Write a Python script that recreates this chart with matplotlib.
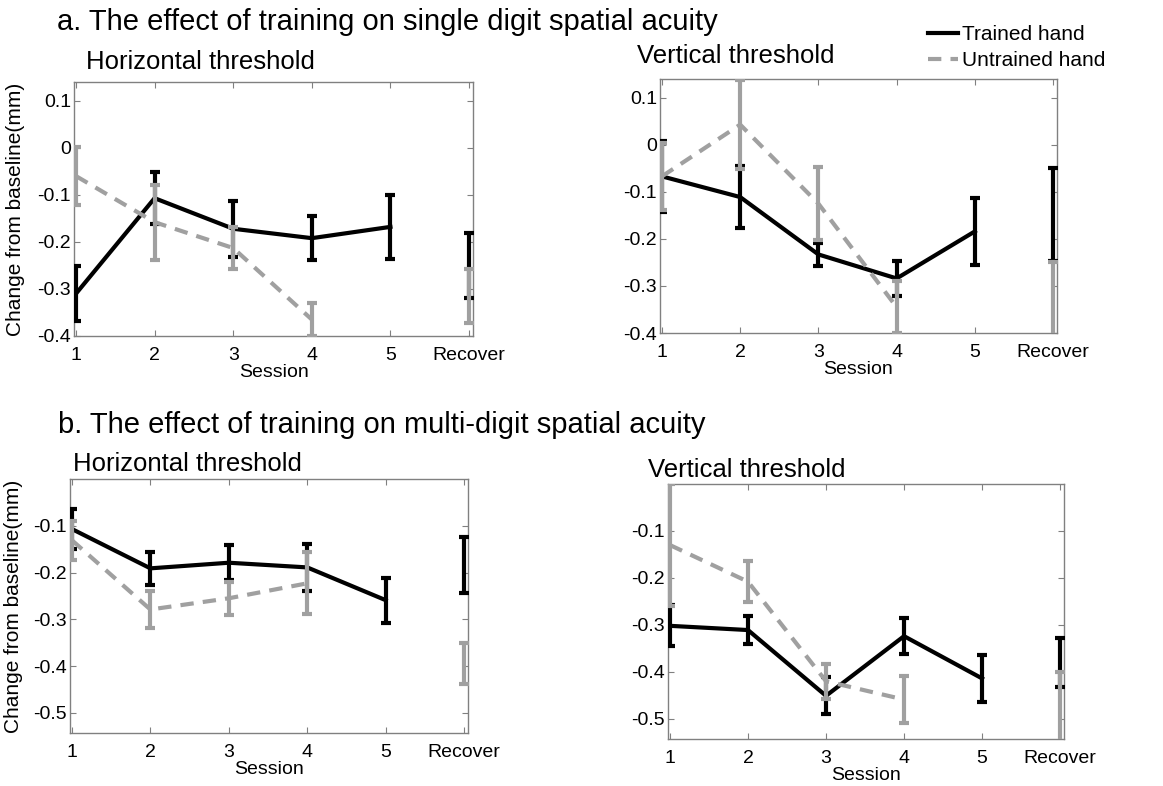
import matplotlib
matplotlib.use("Agg")
import matplotlib.pyplot as plt
from matplotlib.lines import Line2D

plt.rcParams['font.family'] = ['Liberation Sans', 'DejaVu Sans']
plt.rcParams['axes.unicode_minus'] = False

# ---------------- data ----------------
sessions_trained = [1, 2, 3, 4, 5]
sessions_untrained = [1, 2, 3, 4]
recover_x = 6
xtick_labels = ['1', '2', '3', '4', '5', 'Recover']

# a. single digit, horizontal
a_h_trained_mean = [-0.31, -0.107, -0.172, -0.192, -0.168]
a_h_trained_err = [0.058, 0.055, 0.06, 0.047, 0.068]
a_h_untrained_mean = [-0.06, -0.158, -0.213, -0.365]
a_h_untrained_err = [0.062, 0.08, 0.045, 0.035]
a_h_recover_trained = (-0.25, 0.07)
a_h_recover_untrained = (-0.315, 0.058)

# a. single digit, vertical
a_v_trained_mean = [-0.067, -0.111, -0.233, -0.284, -0.184]
a_v_trained_err = [0.075, 0.066, 0.025, 0.037, 0.072]
a_v_untrained_mean = [-0.067, 0.043, -0.125, -0.345]
a_v_untrained_err = [0.071, 0.095, 0.078, 0.055]
a_v_recover_trained = (-0.148, 0.099)
a_v_recover_untrained = (-0.35, 0.1)

# b. multi digit, horizontal
b_h_trained_mean = [-0.107, -0.191, -0.179, -0.189, -0.259]
b_h_trained_err = [0.043, 0.035, 0.037, 0.05, 0.048]
b_h_untrained_mean = [-0.131, -0.279, -0.255, -0.223]
b_h_untrained_err = [0.042, 0.04, 0.035, 0.066]
b_h_recover_trained = (-0.183, 0.06)
b_h_recover_untrained = (-0.394, 0.044)

# b. multi digit, vertical
b_v_trained_mean = [-0.302, -0.311, -0.451, -0.324, -0.414]
b_v_trained_err = [0.044, 0.03, 0.039, 0.039, 0.05]
b_v_untrained_mean = [-0.13, -0.208, -0.42, -0.459]
b_v_untrained_err = [0.13, 0.043, 0.037, 0.05]
b_v_recover_trained = (-0.38, 0.053)
b_v_recover_untrained = (-0.5, 0.1)

a_yticks = [0.1, 0, -0.1, -0.2, -0.3, -0.4]
a_yticklabels = ['0.1', '0', '-0.1', '-0.2', '-0.3', '-0.4']
b_yticks = [-0.1, -0.2, -0.3, -0.4, -0.5]
b_yticklabels = ['-0.1', '-0.2', '-0.3', '-0.4', '-0.5']

# ---------------- style ----------------
W, H = 1163, 786
DPI = 100
BLACK = '#000000'
GRAY = '#a0a0a0'
SPINE = '#808080'
LW = 3.0
DASHES = (3.2, 2.2)
CAP = 3.5

fig = plt.figure(figsize=(W / DPI, H / DPI), dpi=DPI)


def rect(x0, y0, x1, y1):
    return [x0 / W, 1 - y1 / H, (x1 - x0) / W, (y1 - y0) / H]


def draw_panel(ax, tm, te, um, ue, rt, ru, ylim, yticks, yticklabels, ylabel, ylabel_x):
    ax.errorbar(sessions_trained, tm, yerr=te, color=BLACK, lw=LW, elinewidth=LW,
                capsize=CAP, capthick=LW, zorder=3)
    ax.errorbar([recover_x], [rt[0]], yerr=[rt[1]], fmt='none', ecolor=BLACK,
                elinewidth=LW, capsize=CAP, capthick=LW, zorder=3)
    ln = ax.errorbar(sessions_untrained, um, yerr=ue, color=GRAY, lw=LW, elinewidth=LW,
                     capsize=CAP, capthick=LW, zorder=4)
    ln[0].set_dashes(DASHES)
    ax.errorbar([recover_x], [ru[0]], yerr=[ru[1]], fmt='none', ecolor=GRAY,
                elinewidth=LW, capsize=CAP, capthick=LW, zorder=4)
    ax.set_xlim(0.975, 6.05)
    ax.set_ylim(*ylim)
    ax.set_xticks([1, 2, 3, 4, 5, 6])
    ax.set_xticklabels(xtick_labels)
    ax.set_yticks(yticks)
    ax.set_yticklabels(yticklabels)
    ax.tick_params(direction='in', length=4, width=0.8, color=SPINE, labelsize=14,
                   top=True, right=True, labelcolor='black')
    ax.tick_params(axis='x', pad=8)
    ax.tick_params(axis='y', pad=2)
    for s in ax.spines.values():
        s.set_color(SPINE)
        s.set_linewidth(1.0)
    ax.set_xlabel('Session', fontsize=14, labelpad=0)
    if ylabel:
        ax.set_ylabel('Change from baseline(mm)', fontsize=15)
        ax.yaxis.set_label_coords(ylabel_x, 0.5)


ax1 = fig.add_axes(rect(74, 82, 473, 336))
draw_panel(ax1, a_h_trained_mean, a_h_trained_err, a_h_untrained_mean, a_h_untrained_err,
           a_h_recover_trained, a_h_recover_untrained, (-0.4, 0.14), a_yticks, a_yticklabels,
           True, -0.123)
ax2 = fig.add_axes(rect(660, 79, 1057, 333))
draw_panel(ax2, a_v_trained_mean, a_v_trained_err, a_v_untrained_mean, a_v_untrained_err,
           a_v_recover_trained, a_v_recover_untrained, (-0.4, 0.14), a_yticks, a_yticklabels,
           False, 0)
ax3 = fig.add_axes(rect(70, 479, 468, 733))
draw_panel(ax3, b_h_trained_mean, b_h_trained_err, b_h_untrained_mean, b_h_untrained_err,
           b_h_recover_trained, b_h_recover_untrained, (-0.543, 0.0), b_yticks, b_yticklabels,
           True, -0.118)
ax4 = fig.add_axes(rect(668, 484, 1064, 739))
draw_panel(ax4, b_v_trained_mean, b_v_trained_err, b_v_untrained_mean, b_v_untrained_err,
           b_v_recover_trained, b_v_recover_untrained, (-0.543, 0.0), b_yticks, b_yticklabels,
           False, 0)


def ftext(x, y, s, size):
    fig.text(x / W, 1 - y / H, s, fontsize=size, ha='left', va='baseline')


ftext(57, 30, 'a. The effect of training on single digit spatial acuity', 21)
ftext(58, 433, 'b. The effect of training on multi-digit spatial acuity', 21)
ftext(86, 69, 'Horizontal threshold', 18.5)
ftext(637, 63, 'Vertical threshold', 18.5)
ftext(73, 471, 'Horizontal threshold', 18.5)
ftext(648, 477, 'Vertical threshold', 18.5)

h_tr = Line2D([], [], color=BLACK, lw=LW)
h_un = Line2D([], [], color=GRAY, lw=LW, dashes=DASHES)
fig.legend([h_tr, h_un], ['Trained hand', 'Untrained hand'], loc='upper left',
           bbox_to_anchor=(928 / W, 1 - 25 / H), frameon=False, fontsize=15,
           handlelength=1.45, handletextpad=0.2, labelspacing=0.35,
           borderpad=0, borderaxespad=0)

fig.savefig('out.png', dpi=DPI)
